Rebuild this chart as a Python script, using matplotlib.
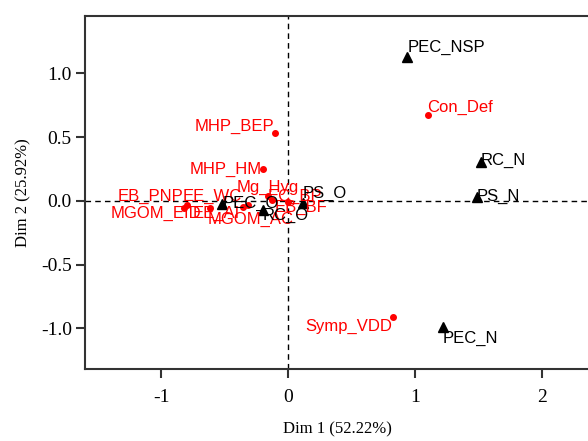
"""
MCA factor map: active categories (red dots) and supplementary categories (black triangles)
"""

import matplotlib
matplotlib.use("Agg")
import matplotlib.pyplot as plt

# Active categories (red)
act_names = ["Con_Def", "MHP_BEP", "MHP_HM", "Symp_VDD", "EB_PNP", "EE_WC",
             "MGOM_EID", "EE_AI", "MGOM_AC", "Mg_Hyg", "EC_BP", "EB_BF"]
act_x = [1.10, -0.10, -0.20, 0.83, -0.80, -0.32, -0.82, -0.355, -0.615, -0.16, -0.13, 0.0]
act_y = [0.675, 0.53, 0.25, -0.91, -0.03, -0.03, -0.055, -0.05, -0.055, 0.04, 0.01, -0.01]

# Supplementary categories (black)
sup_names = ["PEC_NSP", "RC_N", "PS_N", "PEC_N", "PS_O", "RC_O", "PEC_O"]
sup_x = [0.94, 1.52, 1.49, 1.22, 0.115, -0.20, -0.52]
sup_y = [1.13, 0.305, 0.03, -0.99, -0.015, -0.07, -0.02]

# label placement (offset in pixels, horizontal alignment)
act_off = [(0, 7), (-1, 7), (-1, 0), (-1, -9), (-3, 8), (-6, 8),
           (-74, -5), (-3, -6), (-3, -11), (0, 8), (-4, 3), (-13, -5)]
act_ha = ["left", "right", "right", "right", "right", "right",
          "left", "right", "left", "center", "left", "left"]
sup_off = [(0, 9), (0, 2), (0, 1), (0, -11), (0, 9), (0, -6), (0, 0)]

PX = 0.72  # points per pixel at dpi 100

fig = plt.figure(figsize=(5.88, 4.41), dpi=100)
ax = fig.add_axes([85 / 588, 72 / 441, 505 / 588, 353 / 441])

ax.axhline(0, color="black", linestyle="--", linewidth=1, dashes=(4, 3))
ax.axvline(0, color="black", linestyle="--", linewidth=1, dashes=(4, 3))

ax.plot(act_x, act_y, "o", color="red", markersize=4, linestyle="none")
ax.plot(sup_x, sup_y, "^", color="black", markersize=7, linestyle="none")

for name, x, y, (dx, dy), ha in zip(act_names, act_x, act_y, act_off, act_ha):
    ax.annotate(name, (x, y), xytext=(dx * PX, dy * PX), textcoords="offset points",
                ha=ha, va="center", color="red", fontsize=12, family="Liberation Sans")

for name, x, y, (dx, dy) in zip(sup_names, sup_x, sup_y, sup_off):
    ax.annotate(name, (x, y), xytext=(dx * PX, dy * PX), textcoords="offset points",
                ha="left", va="center", color="black", fontsize=12, family="Liberation Sans")

ax.set_xlim(-1.602, 2.381)
ax.set_ylim(-1.318, 1.451)
ax.set_xticks([-1, 0, 1, 2])
ax.set_yticks([-1.0, -0.5, 0.0, 0.5, 1.0])
ax.set_yticklabels(["-1.0", "-0.5", "0.0", "0.5", "1.0"])
ax.set_xticklabels(["-1", "0", "1", "2"])

for s in ax.spines.values():
    s.set_linewidth(1.5)
    s.set_color("#333333")

ax.tick_params(axis="both", direction="out", length=6.5, width=1.5, color="#333333",
               labelsize=14)
ax.tick_params(axis="x", pad=8)
ax.tick_params(axis="y", pad=3)
for lab in ax.get_xticklabels() + ax.get_yticklabels():
    lab.set_family("Liberation Serif")

ax.set_xlabel("Dim 1 (52.22%)", family="Liberation Serif", fontsize=12, labelpad=11)
ax.set_ylabel("Dim 2 (25.92%)", family="Liberation Serif", fontsize=12, labelpad=7)

fig.savefig("out.png", dpi=100)
